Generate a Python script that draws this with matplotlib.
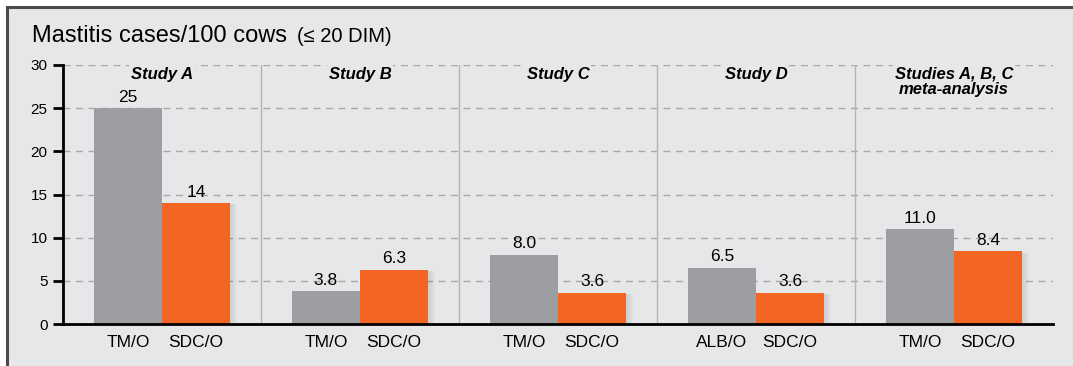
import matplotlib
matplotlib.use("Agg")
import matplotlib.pyplot as plt
from matplotlib.lines import Line2D
from matplotlib.patches import Rectangle
import numpy as np

plt.rcParams['font.family'] = ['Liberation Sans', 'DejaVu Sans']

studies = ["Study A", "Study B", "Study C", "Study D", "Studies A, B, C\nmeta-analysis"]
left_labels = ["TM/O", "TM/O", "TM/O", "ALB/O", "TM/O"]
right_labels = ["SDC/O", "SDC/O", "SDC/O", "SDC/O", "SDC/O"]
left_values = [25, 3.8, 8.0, 6.5, 11.0]
right_values = [14, 6.3, 3.6, 3.6, 8.4]
left_text = ["25", "3.8", "8.0", "6.5", "11.0"]
right_text = ["14", "6.3", "3.6", "3.6", "8.4"]
yticks = [0, 5, 10, 15, 20, 25, 30]

BG = "#e6e7e9"
GRAY = "#9d9ea2"
ORANGE = "#f26522"

fig = plt.figure(figsize=(10.73, 3.66), dpi=100)
fig.patch.set_facecolor("white")
# panel background
fig.add_artist(Rectangle((7/1073, 0), 1, 1 - 7/366, transform=fig.transFigure,
                         facecolor=BG, edgecolor="none", zorder=-10))
fig.add_artist(Line2D([7/1073, 1], [1 - 7/366, 1 - 7/366], transform=fig.transFigure,
                      color="#4a4a4a", lw=2.2))
fig.add_artist(Line2D([7/1073, 7/1073], [0, 1 - 7/366], transform=fig.transFigure,
                      color="#4a4a4a", lw=2.2))

ax = fig.add_axes([63/1073, 1 - 324/366, (1053 - 63)/1073, (324 - 65)/366])
ax.set_facecolor("none")

x = np.arange(len(studies))
w = 0.345
off = w / 2

# grid
for yv in yticks[1:]:
    ax.axhline(yv, color="#a8a8a8", lw=1, ls=(0, (5, 4)), zorder=0)
# separators
for s in x[:-1] + 0.5:
    ax.plot([s, s], [0, 30], color="#b4b4b4", lw=1, zorder=0.5)

# soft shadows to the right of the orange bars
for i in range(len(x)):
    for k in range(6):
        ax.add_patch(Rectangle((x[i] + w + k * 0.006, 0), 0.006, right_values[i] - 0.15,
                               facecolor="black", alpha=0.10 * (1 - k / 6), lw=0, zorder=1))

ax.bar(x - off, left_values, width=w, color=GRAY, zorder=2)
ax.bar(x + off, right_values, width=w, color=ORANGE, zorder=2)

for i in range(len(x)):
    ax.text(x[i] - off, left_values[i] + 0.4, left_text[i], ha="center", va="bottom",
            fontsize=12.5, zorder=3)
    ax.text(x[i] + off, right_values[i] + 0.4, right_text[i], ha="center", va="bottom",
            fontsize=12.5, zorder=3)
    ax.text(x[i], 29.8, studies[i], ha="center", va="top", fontsize=12,
            fontweight="bold", fontstyle="italic", linespacing=1.0, zorder=3,
            bbox=dict(facecolor=BG, edgecolor="none", pad=1.5))

ax.set_xlim(-0.5, 4.5)
ax.set_ylim(0, 30)
ax.set_yticks(yticks)
ax.set_yticklabels([str(t) for t in yticks], fontsize=11)
ax.set_xticks(np.concatenate([x - off, x + off]))
ax.set_xticklabels(left_labels + right_labels, fontsize=12.5)
ax.tick_params(axis="x", length=0, pad=8)
ax.tick_params(axis="y", length=7, width=2, pad=4)
for sp in ["top", "right"]:
    ax.spines[sp].set_visible(False)
ax.spines["left"].set_linewidth(2)
ax.spines["bottom"].set_linewidth(2)

fig.text(32/1073, 1 - 36/366, "Mastitis cases/100 cows", fontsize=17, va="center", ha="left")
fig.text(297/1073, 1 - 37/366, "(\u2264 20 DIM)", fontsize=14.5, va="center", ha="left")

fig.savefig("out.png", dpi=100, facecolor=fig.get_facecolor())
